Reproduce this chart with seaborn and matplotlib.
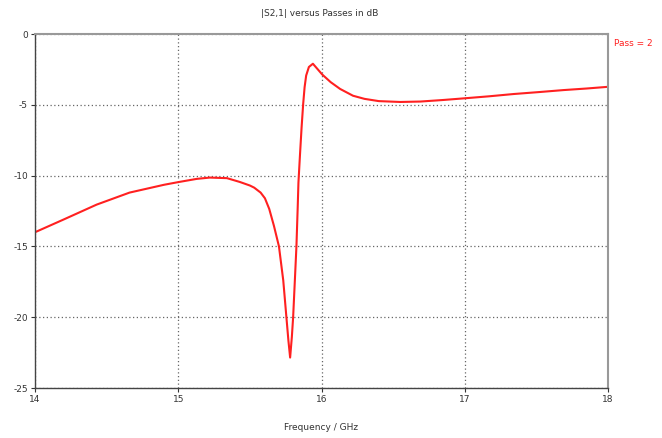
import matplotlib
matplotlib.use("Agg")
import matplotlib.pyplot as plt
import seaborn as sns
import pandas as pd

# |S2,1| magnitude in dB over frequency (GHz)
freq_ghz = [14.0, 14.2, 14.43, 14.66, 14.9, 15.0, 15.13, 15.22, 15.34, 15.43,
            15.5, 15.53, 15.575, 15.605, 15.635, 15.668, 15.703, 15.733, 15.755, 15.769,
            15.781, 15.793, 15.802, 15.814, 15.825, 15.834, 15.839, 15.85, 15.861, 15.872,
            15.882, 15.893, 15.912, 15.94, 15.97, 16.005, 16.064, 16.13, 16.22, 16.3,
            16.4, 16.55, 16.69, 16.85, 17.0, 17.17, 17.34, 17.52, 17.69, 17.85, 18.0]
s21_db = [-14.0, -13.1, -12.05, -11.2, -10.65, -10.46, -10.23, -10.14, -10.18, -10.45,
          -10.7, -10.85, -11.2, -11.6, -12.35, -13.55, -15.0, -17.4, -20.0, -21.65,
          -22.85, -21.4, -20.0, -17.4, -15.0, -12.2, -10.5, -8.5, -6.6, -4.95,
          -3.76, -2.93, -2.33, -2.1, -2.45, -2.86, -3.4, -3.88, -4.36, -4.58,
          -4.74, -4.8, -4.77, -4.66, -4.54, -4.4, -4.24, -4.1, -3.96, -3.85, -3.73]

x_ticks = [14, 15, 16, 17, 18]
y_ticks = [0, -5, -10, -15, -20, -25]

title_text = "|S2,1| versus Passes in dB"
x_label = "Frequency / GHz"
legend_text = "Pass = 2"

df = pd.DataFrame({"freq": freq_ghz, "s21": s21_db})

sns.set_style("white")
plt.rcParams["font.family"] = ["DejaVu Sans"]

fig = plt.figure(figsize=(6.62, 4.38), dpi=100)
ax = fig.add_axes([35 / 662, 1 - 388 / 438, (608 - 35) / 662, (388 - 34) / 438])

sns.lineplot(data=df, x="freq", y="s21", ax=ax, color="#ff2020",
             linewidth=1.5, estimator=None, sort=False)

ax.set_xlim(14, 18)
ax.set_ylim(-25, 0)
ax.set_xticks(x_ticks)
ax.set_yticks(y_ticks)
ax.set_xticklabels([str(t) for t in x_ticks])
ax.set_yticklabels([str(t) for t in y_ticks])

ax.grid(True, linestyle=(0, (1, 2)), color="#666666", linewidth=0.9)
ax.tick_params(axis="both", labelsize=6.5, colors="#333333", length=3,
               width=0.8, pad=2, direction="out", left=True, bottom=True)

for side in ["left", "bottom"]:
    ax.spines[side].set_color("#444444")
    ax.spines[side].set_linewidth(1.0)
for side in ["top", "right"]:
    ax.spines[side].set_visible(True)
    ax.spines[side].set_color("#999999")
    ax.spines[side].set_linewidth(1.5)

ax.set_xlabel(x_label, fontsize=6.5, color="#333333", labelpad=14)
ax.set_ylabel("")
fig.text(320 / 662, 1 - 13 / 438, title_text, fontsize=6.5, color="#333333",
         ha="center", va="center")
fig.text(614 / 662, 1 - 43 / 438, legend_text, fontsize=6.5, color="#ff2020",
         ha="left", va="center")

fig.savefig("out.png", dpi=100)
